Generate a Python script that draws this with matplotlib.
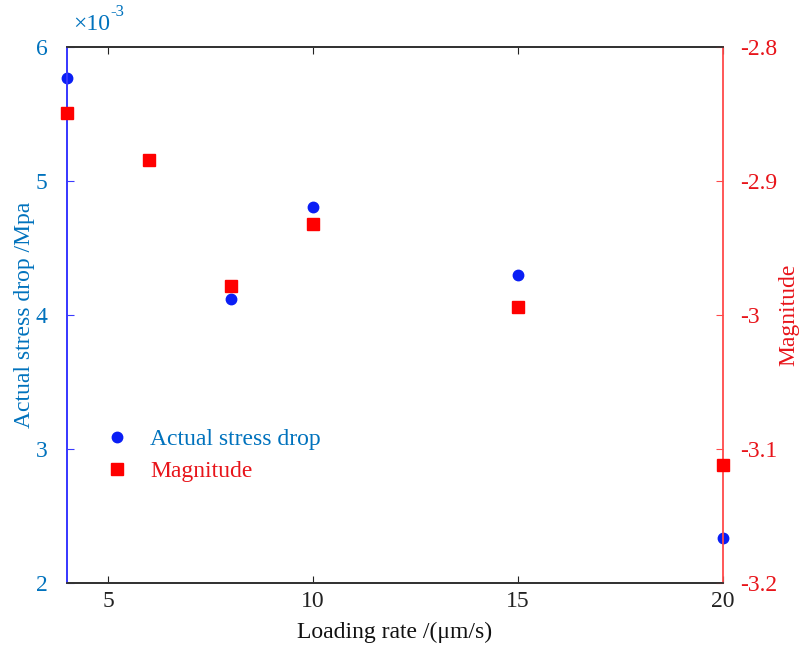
import matplotlib.pyplot as plt
from matplotlib.lines import Line2D

plt.rcParams['font.family'] = ['Liberation Serif', 'DejaVu Serif']

# data
loading_rate = [4, 6, 8, 10, 15, 20]
stress_drop = [5.77e-3, 5.16e-3, 4.12e-3, 4.81e-3, 4.30e-3, 2.336e-3]   # MPa
magnitude = [-2.849, -2.884, -2.978, -2.932, -2.994, -3.112]
x_ticks = [5, 10, 15, 20]
left_ticks = [2, 3, 4, 5, 6]
right_ticks = [-3.2, -3.1, -3.0, -2.9, -2.8]
right_labels = ['-3.2', '-3.1', '-3', '-2.9', '-2.8']

c_left_txt = '#0072BD'
c_left_line = '#3a3aff'
c_right = '#e8141a'
c_right_line = '#ff4a4a'
fs = 17

fig = plt.figure(figsize=(7.99, 6.52), dpi=100)
ax = fig.add_axes([0.0839, 0.1058, 0.821, 0.822])
ax2 = ax.twinx()

ax.plot(loading_rate, [v * 1e3 for v in stress_drop], 'o', color='#0a1ef5',
        ms=7.5, clip_on=False, zorder=3)
ax2.plot(loading_rate, magnitude, 's', color='#ff0000', ms=8,
         clip_on=False, zorder=3)

ax.set_xlim(4, 20)
ax.set_ylim(2, 6)
ax2.set_ylim(-3.2, -2.8)

ax.set_xticks(x_ticks)
ax.set_yticks(left_ticks)
ax2.set_yticks(right_ticks)
ax2.set_yticklabels(right_labels)

ax.tick_params(axis='x', direction='in', top=True, length=5, labelsize=fs,
               colors='#222222', pad=6)
ax.tick_params(axis='y', direction='in', length=5, labelsize=fs,
               colors=c_left_line, labelcolor=c_left_txt, pad=14)
ax2.tick_params(axis='y', direction='in', length=5, labelsize=fs,
                colors=c_right_line, labelcolor=c_right, pad=12)

for a in (ax, ax2):
    a.spines['top'].set_color('#333333')
    a.spines['bottom'].set_color('#333333')
ax.spines['left'].set_color(c_left_line)
ax2.spines['left'].set_color(c_left_line)
ax2.spines['right'].set_color(c_right_line)
ax.spines['right'].set_visible(False)
for a in (ax, ax2):
    for s in a.spines.values():
        s.set_linewidth(1.3)

ax.set_xlabel('Loading rate /(μm/s)', fontsize=fs, color='#111111', labelpad=7)
ax.set_ylabel('Actual stress drop /Mpa', fontsize=fs, color=c_left_txt)
ax.yaxis.set_label_coords(-0.049, 0.5)
ax2.set_ylabel('Magnitude', fontsize=fs, color=c_right)
ax2.yaxis.set_label_coords(1.084, 0.5)

ax.text(0.009, 1.022, '×10', transform=ax.transAxes,
        fontsize=17, color=c_left_txt, ha='left', va='bottom')
ax.text(0.066, 1.05, '-3', transform=ax.transAxes,
        fontsize=12, color=c_left_txt, ha='left', va='bottom')

handles = [
    Line2D([], [], marker='o', ls='none', color='#0a1ef5', ms=7.5),
    Line2D([], [], marker='s', ls='none', color='#ff0000', ms=8),
]
ax2.legend(handles, ['Actual stress drop', 'Magnitude'], frameon=False,
           loc='upper left', bbox_to_anchor=(0.058, 0.288), fontsize=fs,
           labelcolor=[c_left_txt, c_right], handletextpad=0.9,
           handlelength=1.0, labelspacing=0.45, borderpad=0,
           borderaxespad=0)

fig.savefig('out.png', dpi=100)
